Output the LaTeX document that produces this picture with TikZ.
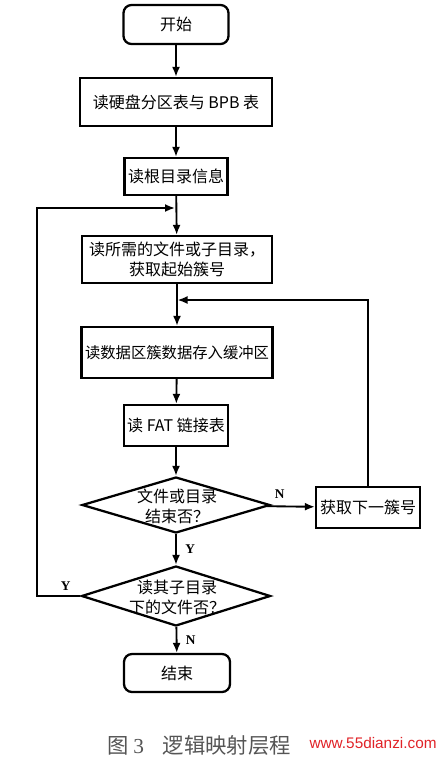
\documentclass[tikz,border=0pt]{standalone}
\usepackage{fontspec}
\setmainfont{Liberation Serif}
\newfontfamily\cjk{Noto Sans CJK SC}
\newfontfamily\wmfont{Liberation Sans}
\usetikzlibrary{shapes.geometric,arrows.meta}
\definecolor{wmred}{RGB}{225,35,40}
\definecolor{capgray}{RGB}{85,85,85}
\begin{document}
\begin{tikzpicture}[x=0.75pt,y=-0.75pt,
  box/.style args={#1/#2}{draw,line width=1.7pt,inner sep=0pt,
    minimum width=#1*0.75pt,minimum height=#2*0.75pt,
    font=\cjk\fontsize{12}{15}\selectfont,align=center},
  term/.style={box=#1,rounded corners=6pt},
  dia/.style args={#1/#2}{draw,diamond,line width=1.7pt,inner sep=0pt,
    minimum width=#1*0.75pt,minimum height=#2*0.75pt},
  diatext/.style={font=\cjk\fontsize{12}{15}\selectfont,align=center},
  flow/.style={line width=1.4pt,-{Latex[length=7.5pt,width=6pt]}},
  lab/.style={font=\bfseries\fontsize{10}{12}\selectfont}]
\useasboundingbox (0,0) rectangle (446,757);
\node[term=105/39] (start) at (176,24.5) {开始};
\node[box=192/48] (b1) at (176,102) {读硬盘分区表与 BPB 表};
\node[box=103/37] (b2) at (176,176.5) {读根目录信息};
\node[box=190/47] (b3) at (177,259.5) {读所需的文件或子目录，\\获取起始簇号};
\node[box=191/51,font=\cjk\fontsize{11.5}{14}\selectfont] (b4) at (177,352.5) {读数据区簇数据存入缓冲区};
\node[box=104/41] (b5) at (176,425.5) {读 FAT 链接表};
\node[dia=188/56] (d1) at (176,505) {};
\node[diatext] (t1) at (177,506) {文件或目录\\结束否？};
\node[box=104/41] (b7) at (368,507.5) {获取下一簇号};
\node[dia=189/60] (d2) at (176,596) {};
\node[diatext] (t2) at (177,597) {读其子目录\\下的文件否？};
\node[term=106/38] (end) at (177,673) {结束};

\coordinate (m1) at (175,208);
\coordinate (c1) at (37,208);
\coordinate (m2) at (177.5,300);

\draw[flow] (start) -- (b1);
\draw[flow] (b1) -- (b2);
\draw[flow] (b2) -- (b3);
\draw[flow] (b3) -- (b4);
\draw[flow] (b4) -- (b5);
\draw[flow] (b5) -- (d1);
\draw[flow] (d1) -- node[lab,above,pos=0.26,yshift=2pt] {N} (b7);
\draw[flow] (d1) -- node[lab,right,xshift=3pt] {Y} (d2);
\draw[flow] (d2) -- node[lab,right,xshift=3pt] {N} (end);
\draw[flow] (d2.west) -| node[lab,above,pos=0.17] {Y} (c1) -- (m1);
\draw[flow] (b7.north) |- (m2);

\node[font=\cjk\fontsize{16}{18}\selectfont,text=capgray,anchor=west,inner sep=0pt] (cap) at (107,745) {图 {\rmfamily 3}\hspace{14pt}逻辑映射层程};
\node[font=\wmfont\fontsize{11.5}{13}\selectfont,text=wmred,fill=white,anchor=west,inner sep=1pt] (wm) at (308,743) {www.55dianzi.com};
\end{tikzpicture}
\end{document}
